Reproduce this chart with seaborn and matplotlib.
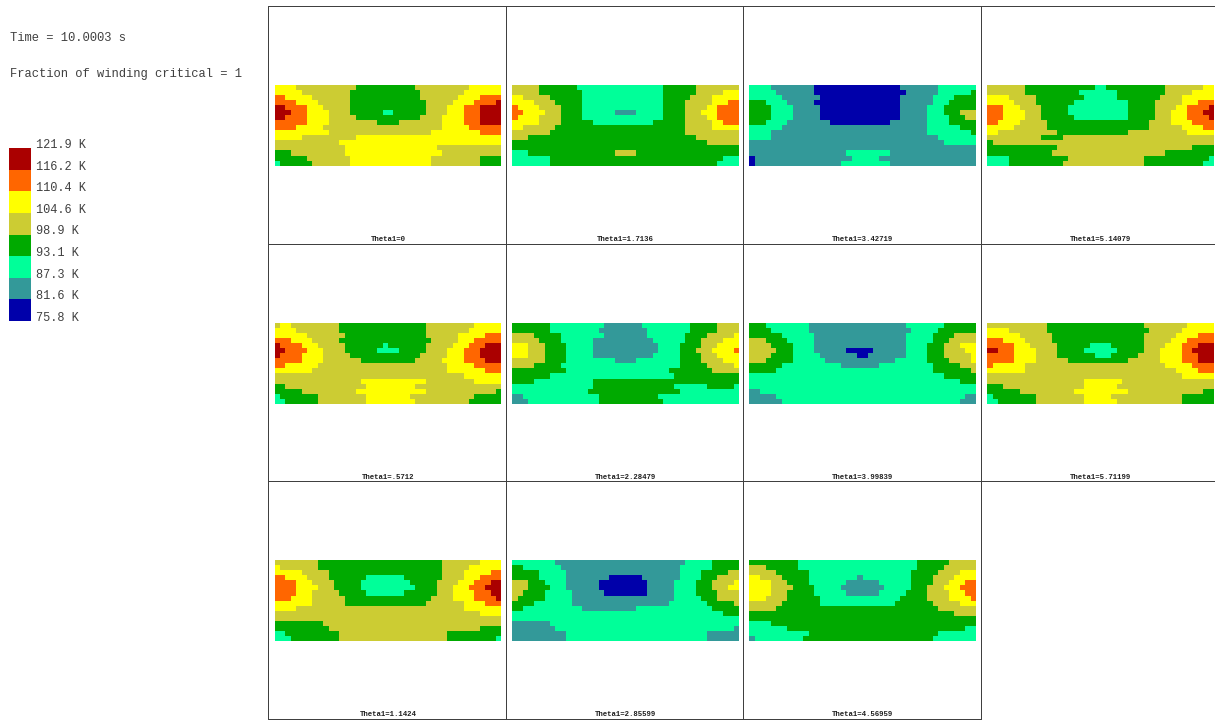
import numpy as np
import pandas as pd
import matplotlib
matplotlib.use('Agg')
import matplotlib.pyplot as plt
from matplotlib.colors import ListedColormap
from matplotlib.lines import Line2D
import seaborn as sns

# bands low to high, cells below are written as band:run_length per row
band_colors = ['#0000AA', '#339999', '#00FF99', '#00AA00', '#CCCC33', '#FFFF00', '#FF6600', '#AA0000']
band_labels = ['121.9 K', '116.2 K', '110.4 K', '104.6 K', '98.9 K', '93.1 K', '87.3 K', '81.6 K', '75.8 K']
legend_bands = [7, 6, 5, 4, 3, 2, 1, 0]

time_label = 'Time = 10.0003 s'
fraction_label = 'Fraction of winding critical = 1'

theta_0 = [
    '5:4 4:11 3:11 4:10 5:6', '5:5 4:9 3:13 4:8 5:7', '6:2 5:5 4:7 3:13 4:7 5:4 6:4',
    '6:4 5:4 4:6 3:14 4:5 5:4 6:4 7:1', '7:2 6:4 5:3 4:5 3:14 4:4 5:3 6:3 7:4',
    '7:3 6:3 5:4 4:4 3:6 2:2 3:6 4:4 5:3 6:3 7:4', '7:2 6:4 5:4 4:5 3:12 4:4 5:4 6:3 7:4',
    '6:6 5:4 4:9 3:4 4:8 5:4 6:3 7:4', '6:4 5:5 4:22 5:5 6:6', '5:10 4:19 5:9 6:4',
    '5:5 4:10 5:27', '4:12 5:30', '4:13 5:17 4:12', '3:3 4:10 5:18 4:11',
    '3:6 4:8 5:15 4:9 3:4', '2:1 3:6 4:7 5:15 4:9 3:4']
theta_1_7136 = [
    '4:5 3:7 2:16 3:6 4:8', '4:5 3:8 2:15 3:6 4:5 5:3', '5:2 4:5 3:6 2:15 3:5 4:4 5:5',
    '5:4 4:4 3:5 2:15 3:4 4:5 5:3 6:2', '6:1 5:4 4:4 3:4 2:15 3:4 4:4 5:2 6:4',
    '6:2 5:4 4:3 3:4 2:6 1:4 2:5 3:4 4:3 5:3 6:4', '6:1 5:4 4:4 3:4 2:15 3:4 4:4 5:2 6:4',
    '5:5 4:4 3:6 2:11 3:6 4:5 5:2 6:3', '5:2 4:6 3:24 4:5 5:5', '4:7 3:25 4:10',
    '4:3 3:31 4:8', '3:36 4:6', '3:42', '2:3 3:16 4:4 3:19', '2:7 3:32 2:3', '2:7 3:31 2:4']
theta_3_42719 = [
    '2:4 1:8 0:16 1:7 2:7', '2:5 1:7 0:17 1:6 2:6 3:1', '2:6 1:7 0:15 1:6 2:4 3:4',
    '3:3 2:4 1:5 0:16 1:6 2:3 3:5', '3:4 2:4 1:5 0:15 1:5 2:3 3:6',
    '3:4 2:4 1:5 0:15 1:5 2:3 3:3 4:3', '3:4 2:4 1:5 0:15 1:5 2:4 3:3 4:2',
    '3:3 2:4 1:8 0:11 1:7 2:4 3:5', '2:6 1:27 2:6 3:3', '2:4 1:29 2:8 3:1', '2:4 1:31 2:7',
    '1:36 2:6', '1:42', '1:18 2:8 1:16', '0:1 1:18 2:5 1:18', '0:1 1:16 2:9 1:16']
theta_5_14079 = [
    '4:7 3:13 2:2 3:11 4:7 5:2', '4:7 3:10 2:7 3:9 4:5 5:4', '5:4 4:5 3:9 2:6 3:8 4:4 5:6',
    '5:5 4:4 3:7 2:10 3:5 4:5 5:3 6:3', '6:3 5:3 4:4 3:5 2:11 3:5 4:4 5:2 6:4 7:1',
    '6:3 5:4 4:3 3:5 2:11 3:5 4:3 5:3 6:3 7:2', '6:3 5:4 4:3 3:6 2:10 3:5 4:3 5:3 6:4 7:1',
    '6:2 5:4 4:5 3:19 4:4 5:4 6:4', '5:5 4:6 3:19 4:6 5:4 6:2', '5:2 4:11 3:13 4:11 5:5',
    '4:10 3:4 4:28', '3:1 4:41', '3:13 4:25 3:4', '3:12 4:21 3:9', '2:4 3:11 4:14 3:12 2:1',
    '2:4 3:10 4:15 3:11 2:2']
theta_0_5712 = [
    '4:1 5:2 4:9 3:16 4:9 5:5', '5:4 4:8 3:16 4:8 5:6', '5:6 4:7 3:15 4:6 5:5 6:3',
    '6:3 5:4 4:5 3:17 4:5 5:3 6:5', '7:1 6:4 5:3 4:5 3:7 2:1 3:7 4:5 5:3 6:3 7:3',
    '7:2 6:4 5:3 4:4 3:6 2:4 3:5 4:4 5:3 6:3 7:4', '7:1 6:4 5:4 4:5 3:13 4:5 5:3 6:3 7:4',
    '6:5 5:4 4:7 3:10 4:5 5:4 6:4 7:3', '6:2 5:6 4:24 5:5 6:5', '5:7 4:25 5:7 6:3',
    '4:35 5:7', '4:16 5:12 4:9 5:5', '3:2 4:15 5:9 4:16', '3:5 4:10 5:13 4:13 3:1',
    '2:1 3:7 4:9 5:8 4:12 3:5', '2:2 3:6 4:9 5:9 4:10 3:6']
theta_2_28479 = [
    '3:7 2:10 1:7 2:9 3:5 4:4', '3:7 2:9 1:9 2:8 3:5 4:4', '4:4 3:5 2:8 1:8 2:7 3:4 4:5 5:1',
    '4:5 3:4 2:6 1:11 2:6 3:3 4:4 5:3', '5:3 4:3 3:4 2:5 1:12 2:4 3:4 4:3 5:4',
    '5:3 4:3 3:4 2:5 1:12 2:4 3:3 4:3 5:4 6:1', '5:3 4:3 3:4 2:5 1:11 2:5 3:4 4:3 5:4',
    '4:6 3:4 2:9 1:4 2:8 3:4 4:4 5:3', '4:4 3:5 2:22 3:5 4:5 5:1', '3:10 2:19 3:8 4:5',
    '3:7 2:23 3:12', '3:4 2:11 3:27', '2:15 3:15 2:6 3:5 2:1', '2:14 3:17 2:11',
    '1:2 2:14 3:11 2:15', '1:3 2:13 3:12 2:14']
theta_3_99839 = [
    '3:3 2:8 1:18 2:7 3:6', '3:4 2:7 1:19 2:5 3:7', '3:6 2:6 1:17 2:5 3:4 4:4',
    '4:3 3:4 2:5 1:17 2:5 3:3 4:5', '4:4 3:4 2:4 1:17 2:4 3:3 4:3 5:3',
    '4:5 3:3 2:4 1:6 0:5 1:6 2:4 3:3 4:4 5:2', '4:4 3:4 2:5 1:7 0:2 1:7 2:4 3:3 4:5 5:1',
    '4:3 3:5 2:6 1:13 2:6 3:4 4:4 5:1', '3:6 2:11 1:7 2:10 3:5 4:3', '3:5 2:29 3:7 4:1',
    '2:36 3:6', '2:39 3:3', '2:42', '1:2 2:40', '1:5 2:35 1:2', '1:6 2:33 1:3']
theta_5_71199 = [
    '4:11 3:18 4:8 5:5', '5:4 4:7 3:19 4:6 5:6', '5:6 4:6 3:17 4:6 5:4 6:3',
    '6:3 5:4 4:5 3:17 4:5 5:3 6:5', '6:5 5:3 4:5 3:6 2:4 3:6 4:4 5:3 6:3 7:3',
    '7:2 6:3 5:4 4:4 3:5 2:6 3:5 4:3 5:4 6:2 7:4', '6:5 5:4 4:4 3:7 2:3 3:5 4:4 5:4 6:3 7:3',
    '6:5 5:4 4:6 3:11 4:6 5:4 6:3 7:3', '6:1 5:6 4:26 5:5 6:4', '5:7 4:28 5:4 6:3',
    '4:36 5:6', '4:18 5:7 4:17', '3:3 4:15 5:6 4:18', '3:6 4:10 5:10 4:14 3:2',
    '2:1 3:8 4:9 5:5 4:13 3:6', '2:2 3:7 4:9 5:6 4:12 3:6']
theta_1_1424 = [
    '4:8 3:23 4:7 5:4', '5:1 4:7 3:23 4:5 5:6', '5:5 4:5 3:21 4:4 5:5 6:2',
    '6:2 5:4 4:4 3:7 2:7 3:7 4:4 5:3 6:4', '6:4 5:3 4:4 3:5 2:9 3:5 4:4 5:3 6:3 7:2',
    '6:4 5:4 4:3 3:5 2:10 3:4 4:3 5:3 6:3 7:3', '6:4 5:3 4:5 3:5 2:7 3:6 4:3 5:4 6:3 7:2',
    '6:3 5:4 4:6 3:16 4:4 5:4 6:4 7:1', '5:7 4:6 3:15 4:7 5:4 6:3', '5:4 4:31 5:7',
    '4:38 5:4', '4:42', '3:9 4:33', '3:10 4:28 3:4', '2:2 3:10 4:20 3:10', '2:3 3:9 4:20 3:9 2:1']
theta_2_85599 = [
    '2:8 1:24 2:5 3:5', '3:2 2:7 1:22 2:6 3:5', '3:5 2:5 1:21 2:4 3:5 4:2',
    '3:5 2:5 1:8 0:6 1:7 2:4 3:3 4:4', '4:3 3:3 2:4 1:6 0:9 1:5 2:4 3:3 4:4 5:1',
    '4:3 3:4 2:3 1:6 0:9 1:5 2:4 3:3 4:3 5:2', '4:2 3:4 2:5 1:6 0:8 1:5 2:4 3:4 4:4',
    '4:1 3:5 2:5 1:19 2:5 3:3 4:4', '3:4 2:7 1:18 2:7 3:5 4:1', '3:2 2:11 1:10 2:14 3:5',
    '2:39 3:3', '2:42', '1:7 2:35', '1:8 2:33 1:1', '1:10 2:26 1:6', '1:10 2:26 1:6']
theta_4_56959 = [
    '3:9 2:22 3:6 4:5', '4:3 3:6 2:22 3:5 4:6', '4:5 3:6 2:19 3:5 4:4 5:3',
    '5:2 4:4 3:5 2:9 1:1 2:9 3:4 4:4 5:4', '5:4 4:3 3:4 2:7 1:6 2:6 3:4 4:3 5:3 6:2',
    '5:4 4:4 3:4 2:5 1:8 2:5 3:3 4:3 5:3 6:3', '5:4 4:3 3:5 2:6 1:6 2:5 3:4 4:4 5:3 6:2',
    '5:3 4:4 3:6 2:15 3:5 4:4 5:4 6:1', '4:6 3:7 2:14 3:7 4:5 5:3', '4:5 3:30 4:7',
    '3:38 4:4', '3:42', '2:4 3:38', '2:7 3:33 2:2', '2:11 3:24 2:7', '1:1 2:9 3:24 2:8']

panel_titles = ['Theta1=0', 'Theta1=1.7136', 'Theta1=3.42719', 'Theta1=5.14079',
                'Theta1=.5712', 'Theta1=2.28479', 'Theta1=3.99839', 'Theta1=5.71199',
                'Theta1=1.1424', 'Theta1=2.85599', 'Theta1=4.56959']
panel_cells = [theta_0, theta_1_7136, theta_3_42719, theta_5_14079,
               theta_0_5712, theta_2_28479, theta_3_99839, theta_5_71199,
               theta_1_1424, theta_2_85599, theta_4_56959]

W, H = 1215, 720
col_left = [274.5, 512.2, 749.3, 987.2]
row_top = [84.5, 322.7, 560]
map_w, map_h = 226.8, 81.2
mono = 'Liberation Mono'
text_color = '#404040'
line_color = '#404040'


def decode(rows):
    out = []
    for row in rows:
        cells = []
        for run in row.split():
            band, n = run.split(':')
            cells += [int(band)] * int(n)
        if len(cells) != 42:
            print('bad row', row, len(cells))
        out.append(cells)
    return pd.DataFrame(out)


def box(x, y, w, h):
    return [x / W, 1 - (y + h) / H, w / W, h / H]


sns.set_theme(style='white')
plt.rcParams['font.family'] = [mono, 'DejaVu Sans']
cmap = ListedColormap(band_colors)

fig = plt.figure(figsize=(W / 100, H / 100), dpi=100, facecolor='white')

# cell frames, 1 px wide
for x in [267.5, 505.5, 742.5, 980.5]:
    fig.add_artist(Line2D([x / W, x / W], [1 - 5.5 / H, 1 - 718.5 / H], color=line_color, lw=0.72))
for y, x_end in [(5.5, W), (243.5, W), (480.5, W), (718.5, 980.5)]:
    fig.add_artist(Line2D([267.5 / W, x_end / W], [1 - y / H, 1 - y / H], color=line_color, lw=0.72))

for i, (title, rows) in enumerate(zip(panel_titles, panel_cells)):
    x = col_left[i % 4]
    y = row_top[i // 4]
    ax = fig.add_axes(box(x, y, map_w, map_h))
    sns.heatmap(decode(rows), ax=ax, cmap=cmap, vmin=-0.5, vmax=7.5, cbar=False,
                xticklabels=False, yticklabels=False)
    ax.set_xlabel('')
    ax.set_ylabel('')
    fig.text((x + map_w / 2) / W, 1 - (y + 154.6) / H, title, ha='center', va='center',
             fontsize=5.3, fontweight='bold', color='#202020')

# legend
ax_leg = fig.add_axes(box(9, 148.3, 22, 172.5))
sns.heatmap(pd.DataFrame(legend_bands), ax=ax_leg, cmap=cmap, vmin=-0.5, vmax=7.5, cbar=False,
            xticklabels=False, yticklabels=False)
ax_leg.set_xlabel('')
ax_leg.set_ylabel('')
for i, lab in enumerate(band_labels):
    ax_leg.annotate(lab, (1, i), xytext=(3.6, 2.2), textcoords='offset points', ha='left',
                    va='center', fontsize=8.6, color=text_color, annotation_clip=False)

fig.text(10 / W, 1 - 38 / H, time_label, ha='left', va='center', fontsize=8.7, color=text_color)
fig.text(10 / W, 1 - 74 / H, fraction_label, ha='left', va='center', fontsize=8.7, color=text_color)

fig.savefig('out.png', dpi=100, facecolor='white')
